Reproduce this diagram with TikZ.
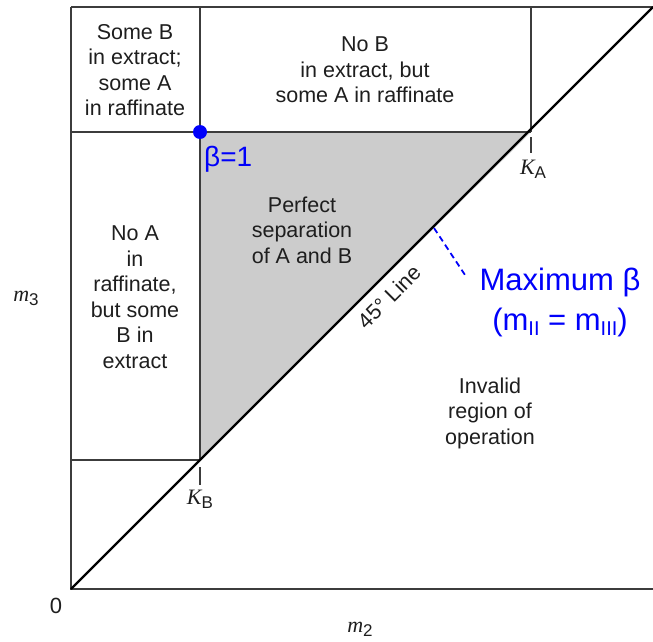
\documentclass[tikz,border=0pt]{standalone}
\usepackage{fontspec}
\setmainfont{Liberation Sans}
\newfontfamily\serifface{Liberation Serif}
\definecolor{frame}{RGB}{60,60,60}
\definecolor{txt}{RGB}{30,30,30}
\definecolor{shadegray}{RGB}{204,204,204}
\definecolor{myblue}{RGB}{0,0,250}
\tikzset{
  frameline/.style={draw=frame, line width=1.6pt},
  diag/.style={draw=black, line width=2.4pt},
  region/.style={align=center, text=txt, inner sep=0pt, font=\fontsize{21.5}{25.5}\selectfont},
  bluetext/.style={align=center, text=myblue, inner sep=0pt},
  axlabel/.style={text=txt, inner sep=0pt, font=\fontsize{22}{24}\selectfont},
}
\newcommand{\mysub}[1]{\raisebox{-0.35ex}{\fontsize{17}{17}\selectfont\upshape\rmfamily #1}}
\begin{document}
\begin{tikzpicture}[x=1pt,y=-1pt]
\useasboundingbox (0,0) rectangle (653,642);
\coordinate (O) at (71,589);
\coordinate (TL) at (71,7);
\coordinate (TR) at (653,7);
\coordinate (BR) at (653,589);
\coordinate (VT) at (200,7);
\coordinate (P) at (200,132);
\coordinate (KA) at (531,132);
\coordinate (KAT) at (531,7);
\coordinate (KB) at (200,460);
\coordinate (L1) at (71,132);
\coordinate (L2) at (71,460);
% shaded region
\fill[shadegray] (P) -- (KA) -- (KB) -- cycle;
% frame lines
\draw[frameline] (TL) -- (TR);
\draw[frameline] (TL) -- (O) -- (BR);
\draw[frameline] (VT) -- (KB);
\draw[frameline] (L1) -- (KA);
\draw[frameline] (KAT) -- (KA);
\draw[frameline] (L2) -- (KB);
% 45 degree line
\draw[diag] (O) -- (TR);
% ticks
\coordinate (KAt1) at (531,137);
\coordinate (KAt2) at (531,153);
\coordinate (KBt1) at (200,467);
\coordinate (KBt2) at (200,485);
\draw[frameline, line width=1.2pt] (KAt1) -- (KAt2);
\draw[frameline, line width=1.2pt] (KBt1) -- (KBt2);
% region labels
\node[region] (r1) at (135,70) {Some B\\in extract;\\some A\\in raffinate};
\node[region] (r2) at (365,70) {No B\\in extract, but\\some A in raffinate};
\node[region] (r3) at (135,297) {No A\\in\\raffinate,\\but some\\B in\\extract};
\node[region] (r4) at (302,230) {Perfect\\separation\\of A and B};
\node[region] (r5) at (490,413) {Invalid\\region of\\operation};
\node[region, rotate=45] (r6) at (389,297) {45° Line};
% axis labels
\node[axlabel] (zero) at (56,606) {0};
\node[axlabel] (m2) at (360,629) {{\serifface\itshape m}\mysub{2}};
\node[axlabel] (m3) at (26,298) {{\serifface\itshape m}\mysub{3}};
\node[axlabel] (kalab) at (533,169) {{\serifface\itshape K}\mysub{A}};
\node[axlabel] (kblab) at (200,499) {{\serifface\itshape K}\mysub{B}};
% blue annotations
\fill[myblue] (P) circle (7);
\node[bluetext, anchor=west, font=\fontsize{28}{30}\selectfont] (beta1) at (204,159) {β=1};
\coordinate (D1) at (434,228);
\coordinate (D2) at (467,278);
\draw[myblue, line width=1.8pt, dash pattern=on 6pt off 4pt] (D1) -- (D2);
\node[bluetext, font=\fontsize{31}{40}\selectfont] (maxb) at (560,302) {Maximum β\\(m\raisebox{-0.35ex}{\fontsize{20}{20}\selectfont II} = m\raisebox{-0.35ex}{\fontsize{20}{20}\selectfont III})};
\end{tikzpicture}
\end{document}
